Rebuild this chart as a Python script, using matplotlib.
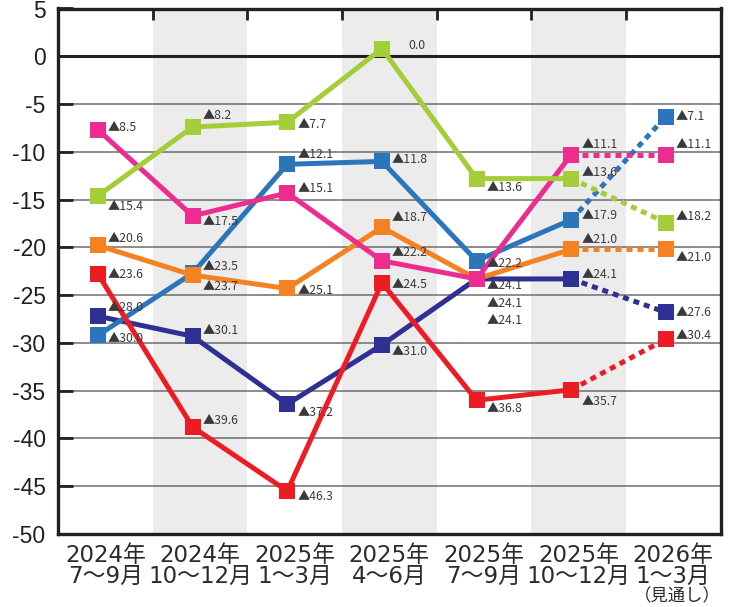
import matplotlib
matplotlib.use('Agg')
import matplotlib.pyplot as plt
import matplotlib.transforms as mtransforms
from matplotlib.ticker import FixedLocator

# ---------------- data ----------------
categories = ['2024年\n7〜9月', '2024年\n10〜12月', '2025年\n1〜3月', '2025年\n4〜6月',
              '2025年\n7〜9月', '2025年\n10〜12月', '2026年\n1〜3月']
forecast_note = '（見通し）'

navy = [-28.0, -30.1, -37.2, -31.0, -24.1, -24.1, -27.6]
blue = [-30.0, -23.5, -12.1, -11.8, -22.2, -17.9, -7.1]
orange = [-20.6, -23.7, -25.1, -18.7, -24.1, -21.0, -21.0]
pink = [-8.5, -17.5, -15.1, -22.2, -24.1, -11.1, -11.1]
green = [-15.4, -8.2, -7.7, 0.0, -13.6, -13.6, -18.2]
red = [-23.6, -39.6, -46.3, -24.5, -36.8, -35.7, -30.4]

# ---------------- styles ----------------
series = [
    (navy, '#2e3192', [-9, -6, 8, 7, 42, -4, 0]),
    (blue, '#2b75bb', [3, -7, -10, -2, 3, -4, 0]),
    (orange, '#f58220', [-7, 11, 2, -10, 7, -10, 8]),
    (pink, '#ec2d8f', [-2, 6, -4, -8, 25, -10, -10]),
    (green, '#a3cd39', [11, -12, 2, -3, 9, -6, -6]),
    (red, '#ed1c24', [0, -7, 5, 2, 8, 12, -4]),
]

W, H = 731, 607
fig = plt.figure(figsize=(W / 100, H / 100), dpi=100)
left, right, bottom, top = 58, 720.5, 534, 8.5
ax = fig.add_axes([left / W, 1 - bottom / H, (right - left) / W, (bottom - top) / H])
ax.set_xlim(-0.5, 6.5)
ax.set_ylim(-50, 5)

n = len(categories)
xs = list(range(n))

# shaded columns
for i in range(1, n, 2):
    ax.axvspan(i - 0.5, i + 0.5, color='#ececec', zorder=0, lw=0)

# gridlines
for yv in range(-45, 5, 5):
    if yv == 0:
        ax.axhline(yv, color='#231f20', lw=2.2, zorder=1)
    else:
        ax.axhline(yv, color='#6d6d6d', lw=1.1, zorder=1)

# the original artwork has its plot layer shifted up-left
shift = mtransforms.ScaledTranslation(-0.073, 0.076, fig.dpi_scale_trans)
tr = ax.transData + shift

lw = 3.6
ms = 12.2
z = 3
for vals, col, dys in series:
    ax.plot(xs[:-1], vals[:-1], color=col, lw=lw, transform=tr, zorder=z,
            solid_capstyle='butt', solid_joinstyle='miter')
    ax.plot(xs[-2:], vals[-2:], color=col, lw=lw, transform=tr, zorder=z,
            linestyle=(0, (1.2, 1.0)), dash_capstyle='butt')
    ax.plot(xs, vals, linestyle='none', marker='s', ms=ms, color=col,
            markeredgewidth=0, transform=tr, zorder=z + 0.5)
    z += 1
    for x, v, dy in zip(xs, vals, dys):
        if v < 0:
            txt = '▲' + f'{abs(v):.1f}'
            dx = 10
        else:
            txt = f'{v:.1f}'
            dx = 26
        ax.annotate(txt, xy=(x, v), xycoords=tr,
                    xytext=(dx * 0.72, -dy * 0.72), textcoords='offset points',
                    ha='left', va='center', fontsize=8.8, color='#3a3a3a',
                    family=['Noto Sans CJK JP', 'DejaVu Sans'], zorder=20)

# axes styling
for s in ax.spines.values():
    s.set_color('#231f20')
    s.set_linewidth(2.4)
    s.set_zorder(15)

ax.set_yticks(range(-50, 6, 5))
ax.set_yticklabels([str(t) for t in range(-50, 6, 5)],
                   family=['Liberation Sans', 'DejaVu Sans'], fontsize=16.5, color='#231f20')
ax.tick_params(axis='y', which='major', direction='in', length=11, width=2,
               color='#231f20', pad=9, left=True, right=False)

ax.set_xticks(xs)
ax.set_xticklabels(categories, family=['DejaVu Sans', 'Noto Sans CJK JP'],
                   fontsize=16.5, color='#2b2b2b', linespacing=0.92)
ax.tick_params(axis='x', which='major', length=0, pad=7)
ax.xaxis.set_minor_locator(FixedLocator([i + 0.5 for i in range(n - 1)]))
ax.tick_params(axis='x', which='minor', direction='in', top=True, bottom=False,
               length=8, width=2, color='#231f20')

fig.text(677 / W, 2 / H, forecast_note, ha='center', va='bottom',
         fontsize=12.5, color='#2b2b2b', family=['Noto Sans CJK JP', 'DejaVu Sans'])

fig.savefig('out.png', dpi=100)
